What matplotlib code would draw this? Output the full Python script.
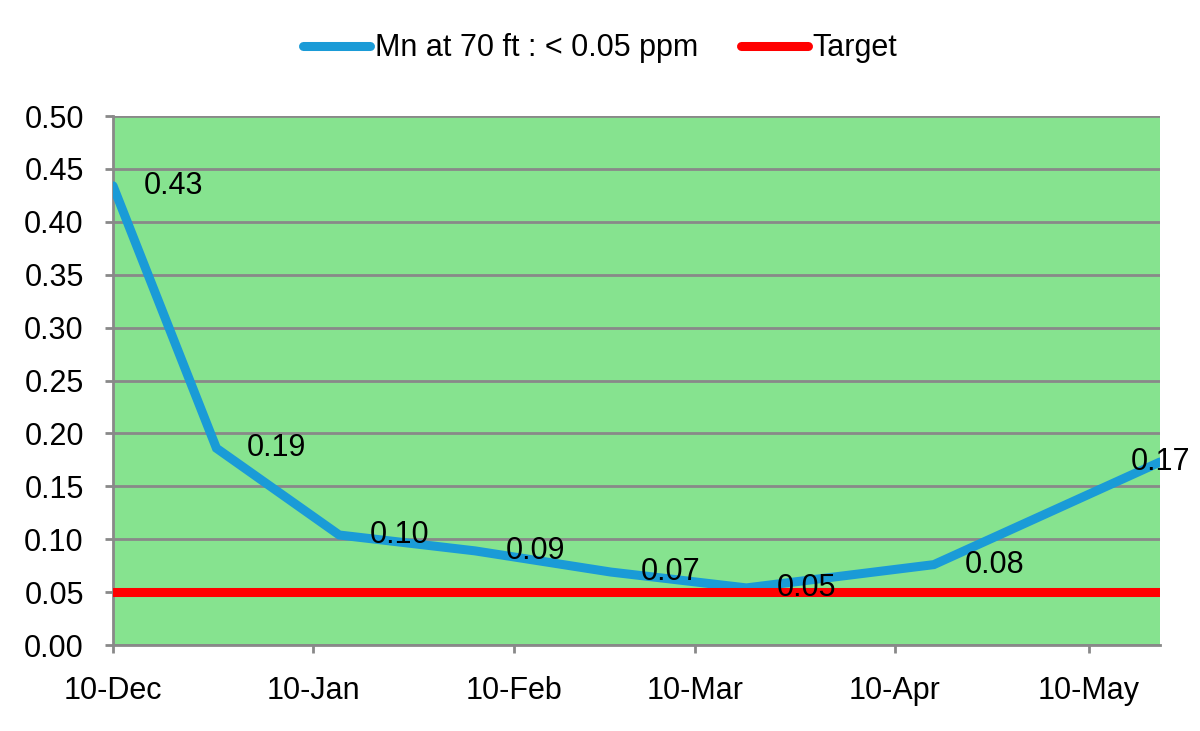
import matplotlib
matplotlib.use("Agg")
import matplotlib.pyplot as plt
import matplotlib.dates as mdates
import numpy as np
import pandas as pd

# Mn readings at 70 ft (ppm)
dates = pd.to_datetime(["2022-12-10", "2022-12-26", "2023-01-14", "2023-02-04",
                        "2023-02-25", "2023-03-18", "2023-04-16", "2023-05-21"])
mn_values = [0.434, 0.186, 0.104, 0.089, 0.069, 0.054, 0.076, 0.173]
target_value = 0.05
tick_dates = pd.to_datetime(["2022-12-10", "2023-01-10", "2023-02-10",
                             "2023-03-10", "2023-04-10", "2023-05-10"])

plt.rcParams['font.family'] = ['Liberation Sans', 'DejaVu Sans']
plt.rcParams['font.size'] = 22

fig = plt.figure(figsize=(12, 7.31), dpi=100)
ax = fig.add_axes([0.0942, 0.1176, 0.8725, 0.7237])
ax.set_facecolor('#86E38F')

grey = '#898989'
ax.plot(dates, mn_values, color='#1A9BD7', lw=6.5, solid_capstyle='round',
        solid_joinstyle='miter', label='Mn at 70 ft : < 0.05 ppm', zorder=3)
ax.plot([dates[0], dates[-1]], [target_value, target_value], color='#FF0000', lw=6.5,
        solid_capstyle='round', label='Target', zorder=4)

# data labels
for i, (d, v) in enumerate(zip(dates, mn_values)):
    if i == len(mn_values) - 1:
        ax.annotate(f"{v:.2f}", (d, v), xytext=(0, 0), textcoords='offset points',
                    ha='center', va='center', fontsize=22, zorder=5)
    else:
        ax.annotate(f"{v:.2f}", (d, v), xytext=(22, 0), textcoords='offset points',
                    ha='left', va='center', fontsize=22, zorder=5)

ax.set_xlim(dates[0], dates[-1])
ax.set_ylim(0, 0.5)
ax.set_yticks(np.arange(0, 0.51, 0.05))
ax.yaxis.set_major_formatter(matplotlib.ticker.FormatStrFormatter('%.2f'))
ax.set_xticks(tick_dates)
ax.xaxis.set_major_formatter(mdates.DateFormatter('%d-%b'))

ax.grid(axis='y', color=grey, lw=2)
ax.set_axisbelow(True)
for s in ['top', 'right']:
    ax.spines[s].set_visible(False)
for s in ['left', 'bottom']:
    ax.spines[s].set_color(grey)
    ax.spines[s].set_linewidth(2)
ax.tick_params(axis='both', colors=grey, width=2, length=6, labelcolor='black')
ax.tick_params(axis='y', pad=15)
ax.tick_params(axis='x', pad=16)

fig.legend(loc='center', bbox_to_anchor=(0.5, 0.934), ncol=2, frameon=False,
           handlelength=2.2, handletextpad=0.15, columnspacing=1.4, fontsize=22)

fig.savefig('out.png', dpi=100)
